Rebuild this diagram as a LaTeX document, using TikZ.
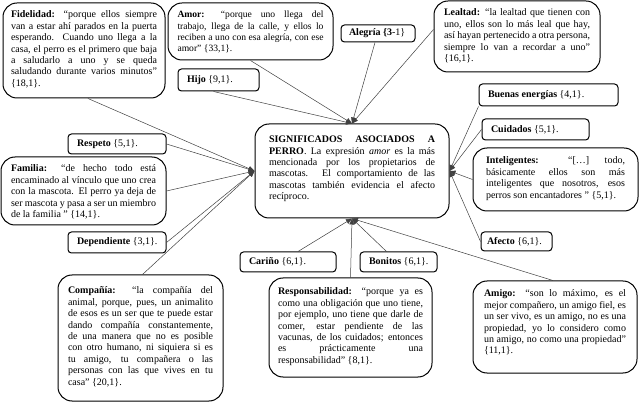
\documentclass[tikz,border=0pt]{standalone}
\usepackage{fontspec}
\setmainfont{Liberation Serif}
\usetikzlibrary{arrows.meta}
\newcommand{\tb}[3]{\begin{minipage}[c][#2pt][t]{#1pt}\fontsize{10}{11.4}\selectfont\hyphenpenalty=10000\exhyphenpenalty=10000\sloppy #3\end{minipage}}
\newcommand{\smbx}[2]{\makebox[#1pt][l]{#2}}
\begin{document}
\begin{tikzpicture}[x=1pt,y=-1pt,
  box/.style={draw, line width=1pt, rounded corners=14pt, inner sep=0pt},
  sbox/.style={draw, line width=1pt, rounded corners=3.5pt, inner xsep=9pt, inner ysep=0pt, font=\fontsize{10}{11}\selectfont},
  conn/.style={draw=black!75, line width=0.5pt, -{Triangle[length=6pt,width=5pt]}}]
\useasboundingbox (0,0) rectangle (640,403);
% big boxes
\node[box, inner xsep=8pt, inner ysep=8pt] (fid) at (84,50.5) {\tb{146}{79}{\textbf{Fidelidad:} “porque ellos siempre\linebreak van a estar ahí parados en la puerta\linebreak esperando. Cuando uno llega a la\linebreak casa, el perro es el primero que baja\linebreak a saludarlo a uno y se queda\linebreak saludando durante varios minutos”\linebreak \{18,1\}.}};
\node[box, inner xsep=9.5pt, inner ysep=8pt] (amor) at (250.5,31.5) {\tb{146}{41}{\fontsize{9.6}{11.4}\selectfont\textbf{Amor:} “porque uno llega del\linebreak trabajo, llega de la calle, y ellos lo\linebreak reciben a uno con esa alegría, con ese\linebreak amor” \{33,1\}.}};
\node[box, inner xsep=10pt, inner ysep=8pt] (leal) at (517,36.5) {\tb{146}{55}{\textbf{Lealtad:} “la lealtad que tienen con uno, ellos son lo más leal que hay, así hayan pertenecido a otra persona, siempre lo van a recordar a uno” \{16,1\}.}};
\node[box, inner xsep=13pt, inner ysep=9pt] (inte) at (555.5,179.5) {\tb{139}{45}{\textbf{Inteligentes:} “[…] todo, básicamente ellos son más inteligentes que nosotros, esos perros son encantadores ” \{5,1\}.}};
\node[box, inner xsep=10pt, inner ysep=8pt] (fam) at (83.5,191) {\tb{145}{52}{\textbf{Familia:} “de hecho todo está encaminado al vínculo que uno crea con la mascota. El perro ya deja de ser mascota y pasa a ser un miembro de la familia ” \{14,1\}.}};
\node[box, inner xsep=10pt, inner ysep=12pt] (comp) at (140.5,338) {\tb{145}{102}{\textbf{Compañía:} “la compañía del\linebreak animal, porque, pues, un animalito\linebreak de esos es un ser que te puede estar\linebreak dando compañía constantemente,\linebreak de una manera que no es posible\linebreak con otro humano, ni siquiera si es\linebreak tu amigo, tu compañera o las\linebreak personas con las que vives en tu\linebreak casa” \{20,1\}.}};
\node[box, inner xsep=9pt, inner ysep=10pt] (respo) at (350.5,327.5) {\tb{145}{79}{\textbf{Responsabilidad:} “porque ya es\linebreak como una obligación que uno tiene,\linebreak por ejemplo, uno tiene que darle de\linebreak comer, estar pendiente de las\linebreak vacunas, de los cuidados; entonces\linebreak es prácticamente una\linebreak responsabilidad” \{8,1\}.}};
\node[box, inner xsep=11pt, inner ysep=9pt] (amigo) at (555,327) {\tb{142}{74}{\textbf{Amigo:} “son lo máximo, es el mejor compañero, un amigo fiel, es un ser vivo, es un amigo, no es una propiedad, yo lo considero como un amigo, no como una propiedad” \{11,1\}.}};
\node[box, inner xsep=14pt, inner ysep=12pt] (cen) at (352,171) {\tb{166}{70}{\textbf{SIGNIFICADOS ASOCIADOS A PERRO}. La expresión \textit{amor} es la más mencionada por los propietarios de mascotas. El comportamiento de las mascotas también evidencia el afecto recíproco.}};
% small boxes
\node[sbox, inner xsep=8pt, minimum height=17pt] (aleg) at (378,33.5) {\smbx{58}{\textbf{Alegría \{3}-1\}}};
\node[sbox, minimum height=22pt] (hijo) at (218.5,80) {\smbx{63}{\textbf{Hijo} \{9,1\}.}};
\node[sbox, minimum height=22pt] (buen) at (548.5,95) {\smbx{121}{\textbf{Buenas energías} \{4,1\}.}};
\node[sbox, minimum height=21pt] (cuid) at (535.5,129.5) {\smbx{89}{\textbf{Cuidados} \{5,1\}.}};
\node[sbox, inner xsep=6pt, minimum height=19pt] (afec) at (516.5,241.5) {\smbx{59}{\textbf{Afecto} \{6,1\}.}};
\node[sbox, minimum height=20pt] (resp) at (117,144) {\smbx{80}{\textbf{Respeto} \{5,1\}.}};
\node[sbox, minimum height=21pt] (dep) at (117,242.5) {\smbx{80}{\textbf{Dependiente} \{3,1\}.}};
\node[sbox, minimum height=20pt] (car) at (288,262) {\smbx{78}{\textbf{Cariño} \{6,1\}.}};
\node[sbox, minimum height=20pt] (boni) at (398.5,262) {\smbx{59}{\textbf{Bonitos} \{6,1\}.}};
% connectors
\draw[conn] ([xshift=4pt]fid.south) -- (cen.west);
\draw[conn] (resp.east) -- (cen.west);
\draw[conn] (fam.east) -- (cen.west);
\draw[conn] (dep.east) -- (cen.west);
\draw[conn] ([xshift=2pt]comp.north) -- (cen.west);
\draw[conn] (amor.south) -- (cen.north);
\draw[conn] ([xshift=-5pt]hijo.south) -- (cen.north);
\draw[conn] ([xshift=-3pt]aleg.south) -- (cen.north);
\draw[conn] ([yshift=7pt]leal.west) -- (cen.north);
\draw[conn] (buen.south west) -- (cen.east);
\draw[conn] (cuid.west) -- (cen.east);
\draw[conn] (inte.west) -- (cen.east);
\draw[conn] (afec.west) -- (cen.east);
\draw[conn] ([xshift=-2pt]amigo.north) -- (cen.south);
\draw[conn] ([xshift=-12pt]boni.north) -- (cen.south);
\draw[conn] ([xshift=10pt]car.north) -- (cen.south);
\draw[conn] (respo.north) -- (cen.south);
\end{tikzpicture}
\end{document}
